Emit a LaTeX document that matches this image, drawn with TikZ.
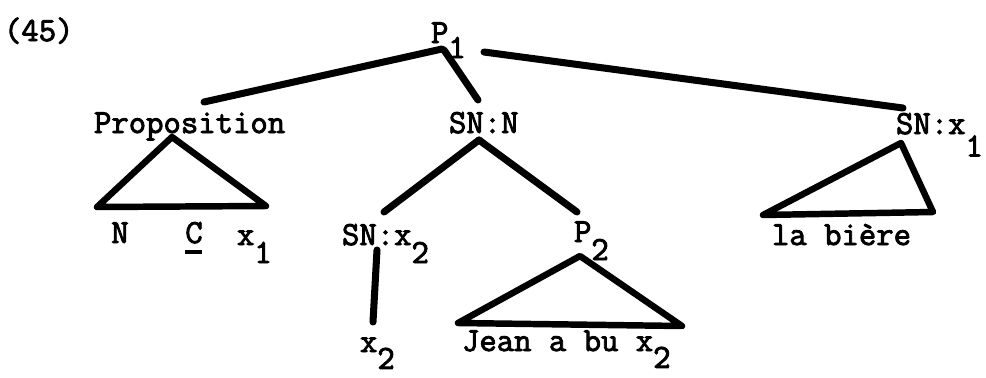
\documentclass[tikz,border=0pt]{standalone}
\usepackage{fontspec}
\newfontfamily\twfont{Latin Modern Mono}[FakeBold=2.6]
\newcommand{\lowr}[2][12.8pt]{\raisebox{-#1}{#2}}
\newcommand{\ulC}{\rlap{\rule[-8pt]{12pt}{2.8pt}}C}
\tikzset{
  lbl/.style={inner sep=0pt, outer sep=0pt, font=\fontsize{24}{28}\selectfont\twfont},
  edge/.style={line width=5pt, line cap=round, line join=round},
  tri/.style={line width=4.6pt, line cap=round, line join=round},
}
\begin{document}
\begin{tikzpicture}[x=0.025cm, y=-0.025cm]
\useasboundingbox (0,0) rectangle (986,377);
% labels
\node[lbl, anchor=base west] (num) at (4,41) {(45)};
\node[lbl, anchor=base west] (p1) at (431,43) {P\lowr[10.7pt]{1}};
\node[lbl, anchor=base west] (prop) at (94,133) {Proposition};
\node[lbl, anchor=base west] (snn) at (449,133) {SN:N};
\node[lbl, anchor=base west] (snx1) at (896,134) {SN:x\lowr[16pt]{1}};
\node[lbl, anchor=base] (n) at (120,243) {N};
\node[lbl, anchor=base] (c) at (194,243) {\ulC};
\node[lbl, anchor=base west] (x1) at (237,245) {x\lowr{1}};
\node[lbl, anchor=base west] (snx2) at (342,245) {SN:x\lowr{2}};
\node[lbl, anchor=base west] (x2) at (360,352) {x\lowr[12pt]{2}};
\node[lbl, anchor=base west] (p2) at (574,242) {P\lowr{2}};
\node[lbl, anchor=base west] (jean) at (462,351) {Jean a bu x\lowr[12pt]{2}};
\node[lbl, anchor=base west] (biere) at (772,245) {la bière};
% connector ends
\coordinate (p1a) at (442,49);
\coordinate (p1b) at (444,50);
\coordinate (p1c) at (484,52);
\coordinate (propT) at (204,102);
\coordinate (snnT) at (478,100);
\coordinate (snx1T) at (903,108);
\coordinate (propA) at (172,137);
\coordinate (propL) at (97,207);
\coordinate (propR) at (266,206);
\coordinate (snnB) at (479,140);
\coordinate (snx2T) at (384,212);
\coordinate (p2T) at (577,212);
\coordinate (snx2B) at (377,250);
\coordinate (x2T) at (373,322);
\coordinate (p2A) at (580,256);
\coordinate (p2L) at (458,323);
\coordinate (p2R) at (682,326);
\coordinate (bA) at (901,143);
\coordinate (bL) at (763,215);
\coordinate (bR) at (933,212);
% connectors
\draw[edge] (p1a) -- (propT);
\draw[edge] (p1b) -- (snnT);
\draw[edge] (p1c) -- (snx1T);
\draw[edge] (snnB) -- (snx2T);
\draw[edge] (snnB) -- (p2T);
\draw[edge] (snx2B) -- (x2T);
\draw[tri] (propA) -- (propL) -- (propR) -- cycle;
\draw[tri] (p2A) -- (p2L) -- (p2R) -- cycle;
\draw[tri] (bA) -- (bL) -- (bR) -- cycle;
\end{tikzpicture}
\end{document}
